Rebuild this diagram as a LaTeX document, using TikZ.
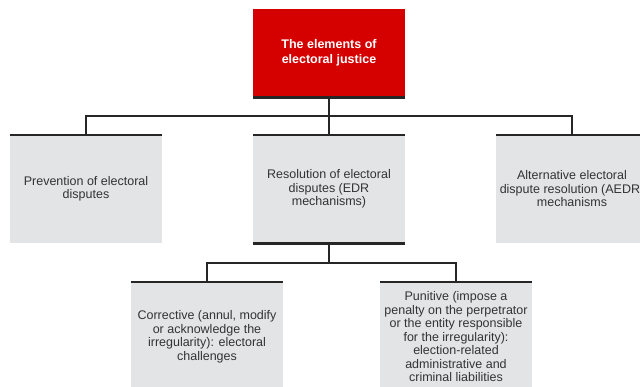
\documentclass[tikz,border=0pt]{standalone}
\usepackage{fontspec}
\setmainfont{Liberation Sans}
\definecolor{redbox}{HTML}{D50000}
\definecolor{graybox}{HTML}{E2E4E5}
\definecolor{darkline}{HTML}{262626}
\definecolor{txtgray}{HTML}{333333}
\begin{document}
\begin{tikzpicture}[x=1pt,y=-1pt,
  gbox/.style={fill=graybox,draw=none,minimum width=152pt,inner sep=0pt,align=center,text=txtgray,font=\fontsize{12.5}{13.5}\selectfont},
  rbox/.style={fill=redbox,draw=none,minimum width=152pt,minimum height=88pt,inner sep=0pt,align=center,text=white,font=\bfseries\fontsize{12.5}{15}\selectfont},
  thick line/.style={draw=darkline,line width=2.6pt},
  conn/.style={draw=darkline,line width=1.4pt}]
\useasboundingbox[fill=white] (0,0) rectangle (640,386);
\node[rbox] (top) at (329,53) {The elements of\\electoral justice};
\node[gbox,minimum height=108pt] (left) at (86,189) {Prevention of electoral\\disputes};
\node[gbox,minimum height=108pt] (mid) at (329,189) {Resolution of electoral\\disputes (EDR\\mechanisms)};
\node[gbox,minimum height=108pt] (right) at (572,189) {Alternative electoral\\dispute resolution (AEDR)\\mechanisms};
\node[gbox,minimum height=110pt] (bl) at (207,337) {Corrective (annul, modify\\or acknowledge the\\irregularity): electoral\\challenges};
\node[gbox,minimum height=110pt] (br) at (456,337) {Punitive (impose a\\penalty on the perpetrator\\or the entity responsible\\for the irregularity):\\election-related\\administrative and\\criminal liabilities};
\coordinate (j1) at (329,116);
\coordinate (j2) at (329,263);
\draw[conn] (top.south) -- (mid.north);
\draw[conn] (j1) -| (left.north);
\draw[conn] (j1) -| (right.north);
\draw[conn] (mid.south) -- (j2);
\draw[conn] (j2) -| (bl.north);
\draw[conn] (j2) -| (br.north);
\draw[thick line] (top.south west) -- (top.south east);
\draw[thick line] (left.north west) -- (left.north east);
\draw[thick line] (mid.north west) -- (mid.north east);
\draw[thick line] (mid.south west) -- (mid.south east);
\draw[thick line] (right.north west) -- (right.north east);
\draw[thick line] (bl.north west) -- (bl.north east);
\draw[thick line] (br.north west) -- (br.north east);
\end{tikzpicture}
\end{document}
